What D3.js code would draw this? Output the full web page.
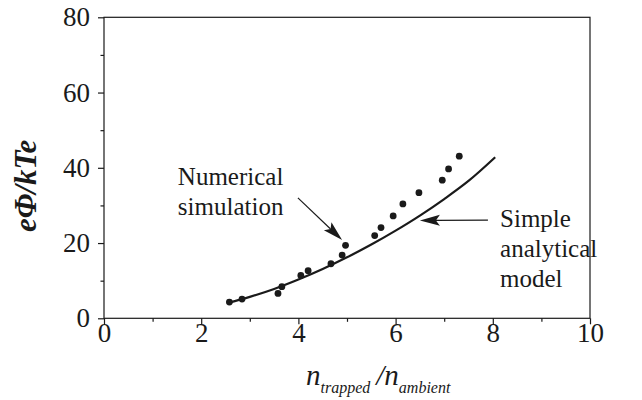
<!DOCTYPE html>
<html>
<head>
<meta charset="utf-8">
<script src="https://cdn.jsdelivr.net/npm/d3@7/dist/d3.min.js"></script>
<style>
  html, body { margin: 0; padding: 0; background: #fff; }
  svg { display: block; }
</style>
</head>
<body>
<svg id="chart" width="642" height="400"></svg>
<script>
// ---- data ----
const simX = [2.58, 2.84, 3.58, 3.66, 4.05, 4.20, 4.67, 4.90, 4.97, 5.57, 5.70, 5.95, 6.15, 6.48, 6.96, 7.09, 7.31];
const simY = [4.3, 5.1, 6.6, 8.4, 11.4, 12.65, 14.5, 16.8, 19.4, 22.0, 24.1, 27.2, 30.4, 33.4, 36.7, 39.7, 43.1];
const modelX = [2.55, 3.0, 3.5, 4.0, 4.5, 5.0, 5.5, 6.0, 6.5, 7.0, 7.5, 8.05];
const modelY = [4.1, 5.7, 7.8, 10.3, 13.1, 16.2, 19.6, 23.3, 27.3, 31.7, 36.5, 42.8];
const xTicks = [0, 2, 4, 6, 8, 10];
const xMinorTicks = [1, 3, 5, 7, 9];
const yTicks = [0, 20, 40, 60, 80];
const yMinorTicks = [10, 30, 50, 70];

// ---- layout ----
const W = 642, H = 400;
const L = 104, R = 590, T = 17.3, B = 318.3;
const ink = "#1a1a1a";
const serif = "'Liberation Serif', 'Times New Roman', serif";

const svg = d3.select("#chart");
const x = d3.scaleLinear().domain([0, 10]).range([L, R]);
const y = d3.scaleLinear().domain([0, 80]).range([B, T]);

// frame
svg.append("rect")
  .attr("x", L).attr("y", T).attr("width", R - L).attr("height", B - T)
  .attr("fill", "none").attr("stroke", ink).attr("stroke-width", 1.2);

function styleAxis(g) {
  g.select(".domain").remove();
  g.selectAll("line").attr("stroke", ink).attr("stroke-width", 1.2);
  g.selectAll("text").attr("fill", ink).style("font-family", serif).style("font-size", "27px");
}

// x axis
svg.append("g").attr("transform", `translate(0,${B})`)
  .call(d3.axisBottom(x).tickValues(xTicks).tickSize(6).tickPadding(-1).tickFormat(d3.format("d")))
  .call(styleAxis);
svg.append("g").attr("transform", `translate(0,${B})`)
  .call(d3.axisBottom(x).tickValues(xMinorTicks).tickSize(3.5).tickFormat(""))
  .call(styleAxis);

// y axis
svg.append("g").attr("transform", `translate(${L},0)`)
  .call(d3.axisLeft(y).tickValues(yTicks).tickSize(6).tickPadding(8).tickFormat(d3.format("d")))
  .call(styleAxis);
svg.append("g").attr("transform", `translate(${L},0)`)
  .call(d3.axisLeft(y).tickValues(yMinorTicks).tickSize(3.5).tickFormat(""))
  .call(styleAxis);

// model curve
const modelData = modelX.map((v, i) => [v, modelY[i]]);
svg.append("path")
  .datum(modelData)
  .attr("fill", "none").attr("stroke", ink).attr("stroke-width", 2.2)
  .attr("d", d3.line().x(d => x(d[0])).y(d => y(d[1])).curve(d3.curveMonotoneX));

// simulation points
const simData = simX.map((v, i) => [v, simY[i]]);
svg.append("g").selectAll("circle")
  .data(simData).join("circle")
  .attr("cx", d => x(d[0])).attr("cy", d => y(d[1])).attr("r", 3.4)
  .attr("fill", ink);

// arrows (data coords)
function arrow(x1, y1, x2, y2) {
  const px1 = x(x1), py1 = y(y1), px2 = x(x2), py2 = y(y2);
  const ang = Math.atan2(py2 - py1, px2 - px1);
  const len = 20, hw = 5.5, notch = 4;
  const bx = px2 - len * Math.cos(ang), by = py2 - len * Math.sin(ang);
  const nx = px2 - (len - notch) * Math.cos(ang), ny = py2 - (len - notch) * Math.sin(ang);
  const ox = -Math.sin(ang) * hw, oy = Math.cos(ang) * hw;
  svg.append("line")
    .attr("x1", px1).attr("y1", py1).attr("x2", nx).attr("y2", ny)
    .attr("stroke", ink).attr("stroke-width", 1.2);
  svg.append("path")
    .attr("d", `M${px2},${py2}L${bx + ox},${by + oy}L${nx},${ny}L${bx - ox},${by - oy}Z`)
    .attr("fill", ink);
}
arrow(3.99, 32.0, 4.90, 20.8);
arrow(7.9, 26.1, 6.5, 26.0);

// annotation texts
function label(lines, xv, yv, step) {
  const t = svg.append("text")
    .attr("fill", ink).style("font-family", serif).style("font-size", "25px");
  lines.forEach((s, i) => {
    t.append("tspan").attr("x", x(xv)).attr("y", y(yv) + i * step).text(s);
  });
}
label(["Numerical", "simulation"], 1.52, 35.4, 30);
label(["Simple", "analytical", "model"], 8.15, 24.2, 30);

// y axis title
svg.append("text")
  .attr("transform", `translate(36,${(T + B) / 2 + 18}) rotate(-90)`)
  .attr("text-anchor", "middle")
  .attr("fill", ink)
  .style("font-family", serif).style("font-size", "31px")
  .style("font-weight", "bold").style("font-style", "italic")
  .text("eΦ/kTe");

// x axis title
const xt = svg.append("text")
  .attr("x", 306).attr("y", 385)
  .attr("fill", ink)
  .style("font-family", serif).style("font-style", "italic").style("font-size", "29px");
xt.append("tspan").text("n");
xt.append("tspan").attr("dy", 8).style("font-size", "16px").text("trapped");
xt.append("tspan").attr("dy", -8).attr("dx", 6).text("/n");
xt.append("tspan").attr("dy", 8).style("font-size", "16px").text("ambient");
</script>
</body>
</html>
